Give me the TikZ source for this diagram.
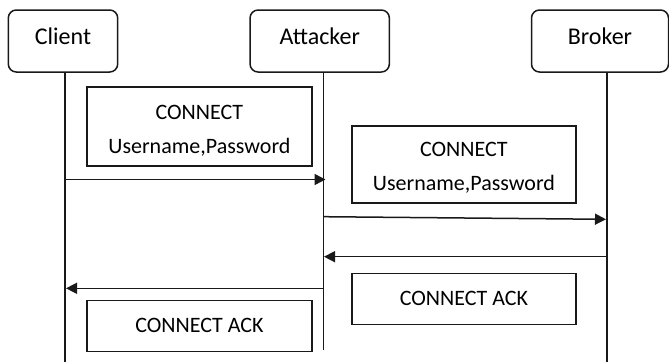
\documentclass[tikz,border=0pt]{standalone}
\usepackage{fontspec}
\setmainfont{Carlito}
\usetikzlibrary{arrows.meta}
\begin{document}
\begin{tikzpicture}[x=1pt,y=-1pt,
  line/.style={draw=black!90,line width=1.5pt},
  actor/.style={line, rounded corners=8pt, minimum height=62pt, inner sep=0pt},
  actorlabel/.style={font=\fontsize{24}{28}\selectfont, anchor=base, inner sep=0pt},
  msgbox/.style={line, inner sep=0pt},
  msg/.style={font=\fontsize{22}{26}\selectfont, anchor=base, inner sep=0pt},
  arr/.style={line, -{Triangle[length=11pt,width=11pt]}}]
\useasboundingbox (0,0) rectangle (669,362);

% participants
\node[actor, minimum width=109.4pt] (client) at (63,41) {};
\node[actor, minimum width=139.3pt] (attacker) at (319.7,41) {};
\node[actor, minimum width=137pt] (broker) at (600,41) {};
\node[actorlabel] (clientlbl) at (63,44.3) {Client};
\node[actorlabel] (attackerlbl) at (319.7,44.3) {Attacker};
\node[actorlabel] (brokerlbl) at (600,44.3) {Broker};

% lifelines
\coordinate (ctop) at (65,72);     \coordinate (cbot) at (65,362);
\coordinate (atop) at (323.3,72);  \coordinate (abot) at (323.3,350);
\coordinate (btop) at (607,72);    \coordinate (bbot) at (607,362);
\draw[line] (ctop) -- (cbot);
\draw[line] (atop) -- (abot);
\draw[line] (btop) -- (bbot);

% message annotations
\node[msgbox, minimum width=224.7pt, minimum height=79pt] (req1) at (199.4,126.5) {};
\node[msg] (req1a) at (199.4,119.3) {CONNECT};
\node[msg] (req1b) at (199.4,153.3) {Username,Password};

\node[msgbox, minimum width=223.7pt, minimum height=77pt] (req2) at (463.9,164.5) {};
\node[msg] (req2a) at (463.9,156.3) {CONNECT};
\node[msg] (req2b) at (463.9,190.3) {Username,Password};

\node[msgbox, minimum width=223.7pt, minimum height=51pt] (ack1) at (463.9,298.8) {};
\node[msg] (ack1a) at (463.9,305.3) {CONNECT ACK};

\node[msgbox, minimum width=224.7pt, minimum height=51.2pt] (ack2) at (199.4,326.1) {};
\node[msg] (ack2a) at (199.4,332.5) {CONNECT ACK};

% message arrows
\coordinate (m1s) at (65,179.5);    \coordinate (m1e) at (325.5,179.5);
\coordinate (m2s) at (324,216.7);   \coordinate (m2e) at (606,219.3);
\coordinate (m3s) at (607,256.7);   \coordinate (m3e) at (324,256.7);
\coordinate (m4s) at (323.3,288.3); \coordinate (m4e) at (66,288.3);
\draw[arr] (m1s) -- (m1e);
\draw[arr] (m2s) -- (m2e);
\draw[arr] (m3s) -- (m3e);
\draw[arr] (m4s) -- (m4e);
\end{tikzpicture}
\end{document}
